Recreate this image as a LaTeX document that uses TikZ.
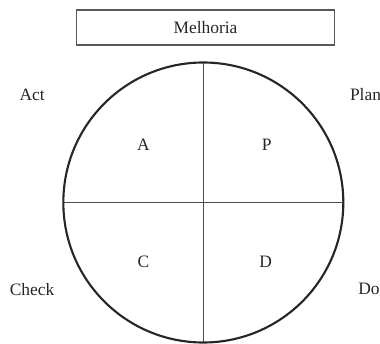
\documentclass[tikz,border=0pt]{standalone}
\usepackage{fontspec}
\setmainfont{Liberation Serif}
\usetikzlibrary{positioning}
\tikzset{
  txt/.style={font=\fontsize{12.4}{14}\selectfont,text=black!85,inner sep=0pt},
  ttlbox/.style={draw=black!65,line width=0.8pt,minimum width=6.44cm,minimum height=0.875cm,txt},
  ring/.style={draw=black!85,line width=1.5pt},
  cross/.style={draw=black!70,line width=0.9pt}
}
\begin{document}
\begin{tikzpicture}
  \useasboundingbox (-5.083,-3.5125) rectangle (4.417,5.0625);
  % cycle
  \coordinate (o) at (0,0);
  \coordinate (top) at (0,3.5);
  \coordinate (bot) at (0,-3.5);
  \coordinate (lft) at (-3.5,0);
  \coordinate (rgt) at (3.5,0);
  \draw[cross] (top) -- (bot);
  \draw[cross] (lft) -- (rgt);
  \draw[ring] (o) circle (3.5);

  \node[ttlbox] (melh) at (0.055,4.375) {Melhoria};

  % quadrants
  \node[txt] (a) at (-1.5,1.44) {A};
  \node[txt] (p) at (1.585,1.44) {P};
  \node[txt] (c) at (-1.5,-1.49) {C};
  \node[txt] (d) at (1.56,-1.49) {D};

  % phases
  \node[txt] (act) at (-4.28,2.69) {Act};
  \node[txt,anchor=west] (plan) at (3.66,2.69) {Plan};
  \node[txt] (check) at (-4.28,-2.17) {Check};
  \node[txt] (do) at (4.14,-2.17) {Do};
\end{tikzpicture}
\end{document}
